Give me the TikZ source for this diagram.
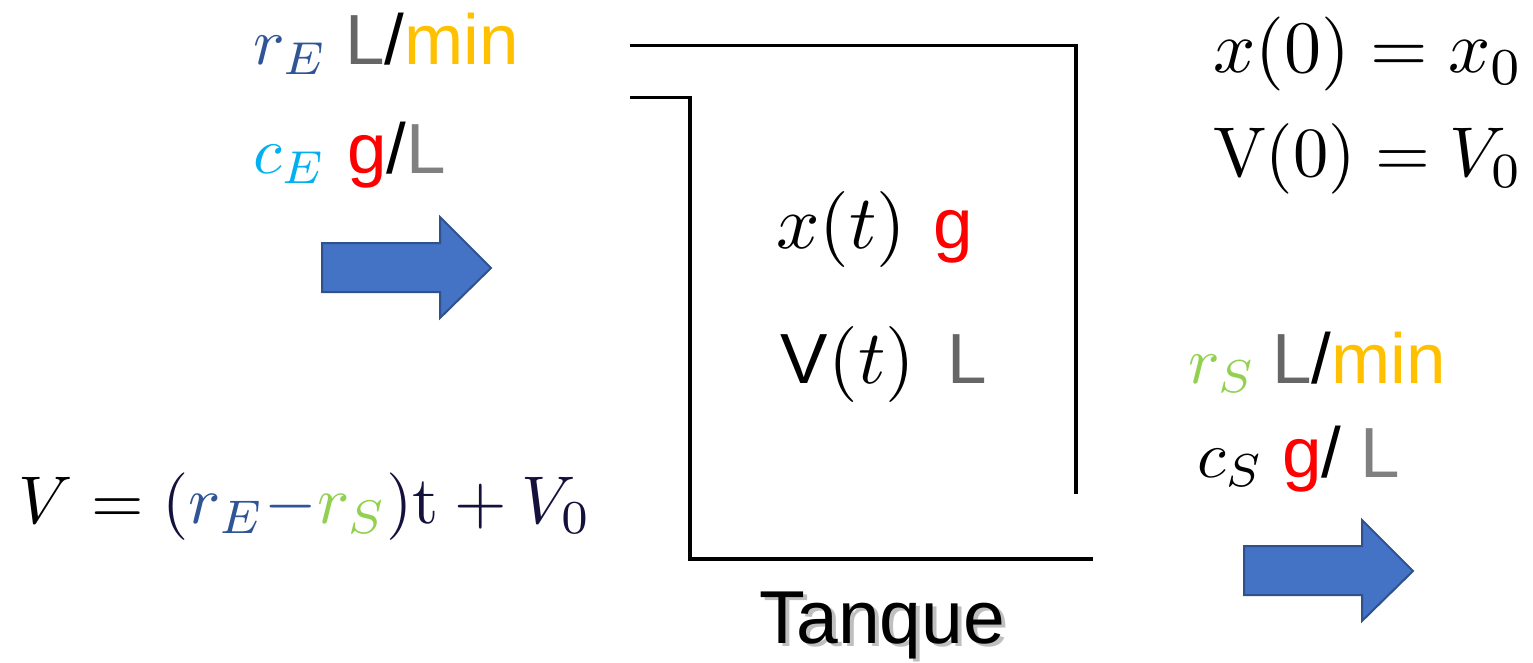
\documentclass[tikz,border=0pt]{standalone}
\usepackage{fontspec}
\newfontfamily\sanf{Liberation Sans}
\definecolor{rEc}{HTML}{2F5597}
\definecolor{cEc}{HTML}{00B0F0}
\definecolor{rSc}{HTML}{92D050}
\definecolor{gLa}{HTML}{666666}
\definecolor{gLb}{HTML}{808080}
\definecolor{goldc}{HTML}{FFC000}
\definecolor{redc}{HTML}{FF0000}
\definecolor{navy}{HTML}{14123C}
\definecolor{arrfill}{HTML}{4472C4}
\definecolor{arrline}{HTML}{2F528F}
\begin{document}
\begin{tikzpicture}[x=1pt,y=-1pt,
  lbl/.style={anchor=base west, inner sep=0pt, outer sep=0pt},
  mathlbl/.style={lbl, font=\fontsize{10}{12}\selectfont, scale=#1, transform shape},
  unitlbl/.style={lbl, font=\fontsize{71}{80}\selectfont\sanf},
  tank/.style={line width=3.5pt, line join=miter},
  bigarrow/.style={fill=arrfill, draw=arrline, line width=2pt, line join=miter}]
\useasboundingbox (0,0) rectangle (1533,663);
% tank
\draw[tank] (630,45.5) -- (1076,45.5) -- (1076,494);
\draw[tank] (630,97.5) -- (690,97.5) -- (690,559) -- (1093,559);
% arrows
\draw[bigarrow] (322,243) -- (440,243) -- (440,217) -- (491,268) -- (440,318) -- (440,292) -- (322,292) -- cycle;
\draw[bigarrow] (1244,546) -- (1362,546) -- (1362,520) -- (1413,571) -- (1362,621) -- (1362,595) -- (1244,595) -- cycle;
% inflow labels
\node[mathlbl=6.6, text=rEc] (rE) at (253,65) {$r_E$};
\node[unitlbl] (rEu) at (345,65) {\color{gLa}L\color{black}/\color{goldc}min};
\node[mathlbl=6.6, text=cEc] (cE) at (253,174) {$c_E$};
\node[unitlbl] (cEu) at (347,174) {\color{redc}g\color{black}/\color{gLb}L};
% initial conditions
\node[mathlbl=7.4] (x0) at (1213,73) {$x(0)=x_0$};
\node[mathlbl=7.05] (V0) at (1213,177) {$\mathrm{V}(0)=V_0$};
% tank contents
\node[mathlbl=7.6] (xt) at (776,248) {$x(t)$};
\node[unitlbl, text=redc] (xtu) at (933,248) {g};
\node[unitlbl] (VtV) at (780,383) {V};
\node[mathlbl=7.6, anchor=base east] (Vt) at (915,383) {$(t)$};
\node[unitlbl, text=gLa] (Vtu) at (947,383) {L};
% outflow labels
\node[mathlbl=6.6, text=rSc] (rS) at (1188,383) {$r_S$};
\node[unitlbl] (rSu) at (1272,383) {\color{gLa}L\color{black}/\color{goldc}min};
\node[mathlbl=6.6] (cS) at (1197,477) {$c_S$};
\node[unitlbl] (cSu) at (1282,477) {\color{redc}g\color{black}/ \color{gLb}L};
% volume equation
\node[mathlbl=6.75] (Veq) at (18,523) {$V={\color{navy}(}{\color{rEc}r_E{-}}{\color{rSc}r_S}{\color{navy})\mathrm{t}+V_0}$};
% tank caption with shadow
\node[lbl, font=\fontsize{75}{80}\selectfont\sanf, text=black!50, opacity=0.5] (tanqueshadow) at (763,646) {Tanque};
\node[lbl, font=\fontsize{75}{80}\selectfont\sanf] (tanque) at (759,643) {Tanque};
\end{tikzpicture}
\end{document}
